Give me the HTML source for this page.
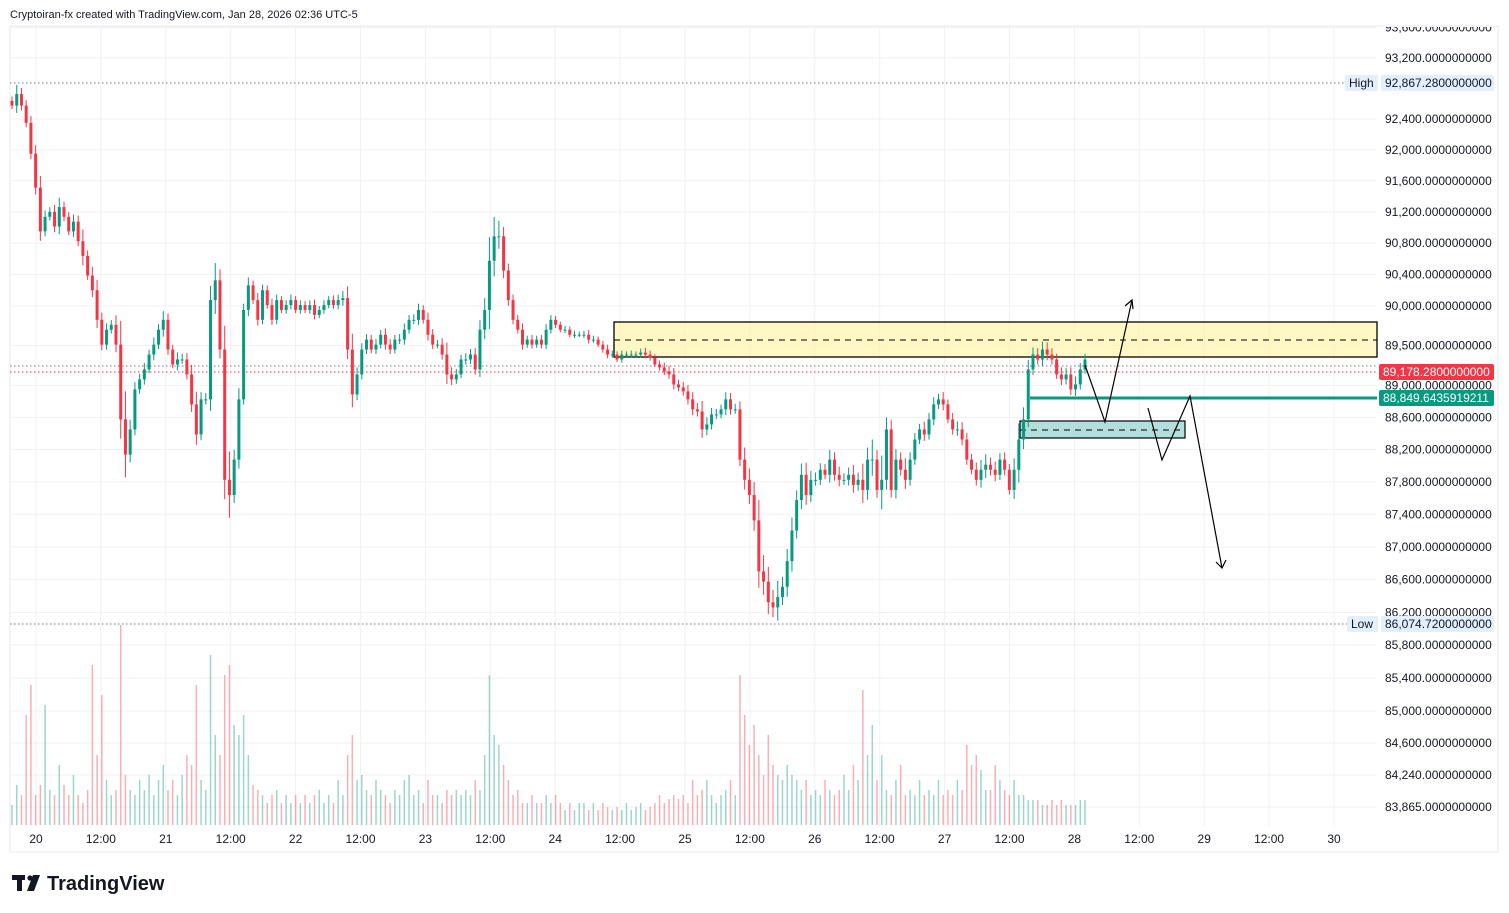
<!DOCTYPE html>
<html><head><meta charset="utf-8"><style>
body{margin:0;background:#fff;font-family:"Liberation Sans",sans-serif;}
svg{display:block}
</style></head><body>
<svg id="chart" width="1509" height="913" viewBox="0 0 1509 913" xmlns="http://www.w3.org/2000/svg">
<defs><clipPath id="plotclip"><rect x="0" y="27" width="1509" height="830"/></clipPath></defs>
<rect x="0" y="0" width="1509" height="913" fill="#fff"/>
<text x="10" y="18" font-size="11" fill="#131722">Cryptoiran-fx created with TradingView.com, Jan 28, 2026 02:36 UTC-5</text>
<rect x="10" y="26" width="1488" height="826" fill="none" stroke="#e8e8ec"/>
<g id="grid"></g>
<g id="zones"></g>
<g id="vols"></g>
<g id="candles"></g>
<g id="draw"></g>
<g id="axis" clip-path="url(#plotclip)"></g>
<g>
<rect x="12" y="875" width="13" height="5" fill="#131722"/>
<rect x="17" y="875" width="5" height="16" fill="#131722"/>
<circle cx="30" cy="878" r="2.6" fill="#131722"/>
<polygon points="33,875 40,875 34,891 27,891" fill="#131722"/>
<text x="47" y="890" font-size="20" font-weight="bold" fill="#131722">TradingView</text>
</g>
</svg>
<script>
const priceTicks=[93600,93200,92400,92000,91600,91200,90800,90400,90000,89500,89000,88600,88200,87800,87400,87000,86600,86200];
const extraLabels=["85,800","85,400","85,000","84,600","84,240","83,865"];
const extraY=[645,678,711,743,775,807];
const timeLabels=["20","12:00","21","12:00","22","12:00","23","12:00","24","12:00","25","12:00","26","12:00","27","12:00","28","12:00","29","12:00","30"];
const closes=[92575,92725,92575,92350,91950,91512,90950,91137,91200,91012,91262,91137,90950,91075,90825,90637,90387,90200,89825,89512,89700,89762,89512,88575,88137,88450,88950,89075,89200,89387,89512,89700,89825,89450,89262,89325,89325,89137,88762,88387,88825,88825,90075,90325,89450,87825,87637,88075,88825,89950,90262,90075,89825,90200,90012,89825,90075,89950,90012,90075,89950,90012,89950,90012,89887,89950,90012,90075,90012,90075,90100,89450,88887,89137,89450,89575,89450,89512,89637,89512,89450,89575,89575,89700,89825,89825,89950,89825,89637,89512,89512,89387,89137,89075,89137,89325,89325,89387,89200,89700,89950,90575,90887,90887,90450,90075,89825,89700,89512,89575,89512,89575,89512,89700,89825,89762,89700,89700,89637,89637,89637,89637,89575,89575,89512,89450,89387,89387,89325,89387,89387,89387,89387,89412,89387,89350,89262,89225,89175,89137,89012,88975,88925,88825,88700,88675,88450,88512,88637,88637,88700,88825,88700,88700,88075,87825,87637,87325,86700,86575,86325,86262,86387,86512,86825,87200,87575,87887,87637,87825,87825,87950,87887,88075,87887,87825,87825,87887,87762,87825,87700,88075,88075,87700,87825,88450,87700,88075,87950,87825,88075,88325,88450,88387,88575,88762,88825,88762,88575,88450,88450,88325,88075,87950,87825,87950,88012,87950,87887,88075,87950,87700,87950,88325,88575,89200,89387,89325,89450,89387,89325,89137,89075,89137,88950,89012,89200,89325];
const wicks=[60,120,80,70,90,110,150,80,60,90,120,70,60,90,80,150,70,110,130,90,80,60,120,300,350,120,90,70,80,60,90,70,110,80,60,90,70,80,120,160,90,80,180,220,140,300,350,120,140,80,100,60,90,70,60,80,70,50,60,70,50,60,50,60,70,50,60,50,60,70,90,150,200,90,80,70,60,70,60,80,70,60,70,80,60,70,80,60,90,70,60,80,150,90,70,60,80,70,80,120,150,300,250,200,120,90,70,60,80,50,60,50,60,70,60,50,40,50,40,50,40,50,60,50,40,50,60,50,40,50,40,50,40,50,60,50,40,50,60,70,80,60,70,80,90,80,130,90,80,70,60,90,80,70,100,150,140,160,250,200,180,150,200,120,150,160,120,140,150,110,90,80,70,120,90,100,80,90,120,90,200,150,250,120,300,150,120,130,90,140,90,80,70,100,80,90,70,90,60,80,100,90,80,70,90,120,130,90,100,80,90,70,140,200,150,120,90,80,100,90,80,70,90,80,90,100,80,70];
const vols=[20,40,30,110,140,30,40,120,35,30,60,40,30,50,30,22,35,160,70,130,45,30,35,200,50,35,30,45,35,50,30,45,60,35,45,30,50,70,60,140,45,35,170,90,70,150,160,100,90,110,70,40,35,30,22,30,35,22,30,22,30,22,30,22,30,35,22,30,22,45,30,70,90,45,50,35,30,45,35,30,22,35,30,45,50,30,35,22,45,30,30,22,35,30,35,30,35,30,45,35,70,150,90,80,60,45,30,35,22,22,30,22,22,30,22,30,22,15,22,15,22,22,15,22,15,22,18,15,18,15,22,15,18,22,15,18,22,30,22,26,30,26,30,22,45,30,35,45,30,22,30,35,45,30,150,110,80,100,70,50,90,60,50,45,60,50,45,35,45,30,35,30,45,35,30,35,50,35,60,45,135,70,100,45,70,35,30,45,60,30,35,30,45,30,35,30,45,30,35,30,45,35,80,60,70,55,35,35,60,45,35,30,45,30,30,25,25,25,20,20,25,20,25,20,20,20];
const NS="http://www.w3.org/2000/svg";
function mk(tag,attrs,parent){const e=document.createElementNS(NS,tag);for(const k in attrs)e.setAttribute(k,attrs[k]);parent.appendChild(e);return e;}
const yOf=p=>306-7105*Math.log(p/90000);
const x0=12,x1=1085;
const step=(x1-x0)/(closes.length-1);
const xOf=i=>x0+i*step;
const UP="#089981",DN="#f23645";
const grid=document.getElementById('grid'),axis=document.getElementById('axis');
priceTicks.forEach(p=>{const y=yOf(p);
 const l=mk('line',{x1:10,x2:1377,y1:y,y2:y,stroke:'#f0f1f3'},grid);
 
 
 const t=mk('text',{x:1385,y:y+4,'font-size':12,fill:'#131722'},axis);
 t.textContent=p.toLocaleString('en-US')+'.0000000000';
 
 
});
extraLabels.forEach((s,i)=>{const y=extraY[i];
 mk('line',{x1:10,x2:1377,y1:y,y2:y,stroke:'#f0f1f3'},grid);
 const t=mk('text',{x:1385,y:y+4,'font-size':12,fill:'#131722'},axis);
 t.textContent=s+'.0000000000';
 
 
});
timeLabels.forEach((s,i)=>{const x=36+i*64.9;
 mk('line',{x1:x,x2:x,y1:26,y2:826,stroke:'#f0f1f3'},grid);
 const t=mk('text',{x:x,y:843,'font-size':12,fill:'#131722','text-anchor':'middle'},axis);
 t.textContent=s;
 
 
});
const zones=document.getElementById('zones');
const yz=mk('rect',{x:614,y:322,width:763,height:35,fill:'#fff59d',opacity:0.6,stroke:'#000','stroke-width':1.2},zones);


mk('rect',{x:614,y:322,width:763,height:35,fill:'none',stroke:'#000','stroke-width':1.2},zones);
mk('line',{x1:614,x2:1377,y1:340,y2:340,stroke:'#000','stroke-dasharray':'6 5'},zones);
const gz=mk('rect',{x:1020,y:421,width:165,height:17,fill:'#b2dfdb',stroke:'#000','stroke-width':1.2},zones);


mk('line',{x1:1020,x2:1185,y1:430,y2:430,stroke:'#000','stroke-dasharray':'6 5'},zones);
[[83,'#787b86'],[624,'#787b86'],[366,'#787b86'],[372,'#f23645']].forEach(([y,c])=>{
 const l=mk('line',{x1:10,x2:1377,y1:y,y2:y,stroke:c,'stroke-dasharray':'1.5 2.5'},zones);
 
 
});
const vg=document.getElementById('vols');
closes.forEach((c,i)=>{const o=i?closes[i-1]:c;const v=vols[i]??25;
 const r=mk('rect',{x:xOf(i)-0.75,y:825-v,width:1.5,height:v,fill:c>=o?UP:DN,opacity:0.4},vg);
 
 
});
const cg=document.getElementById('candles');
closes.forEach((c,i)=>{const o=i?closes[i-1]:c+60;const w=wicks[i]??60;const col=c>=o?UP:DN;const x=xOf(i);
 const hi=Math.max(o,c)+w,lo=Math.min(o,c)-w*0.8;
 const wl=mk('line',{x1:x,x2:x,y1:yOf(hi),y2:yOf(lo),stroke:col,'stroke-width':1},cg);
 
 
 const yt=yOf(Math.max(o,c)),yb=yOf(Math.min(o,c));
 const b=mk('rect',{x:x-1.5,y:yt,width:3,height:Math.max(1,yb-yt),fill:col},cg);
 
 
});
const dg=document.getElementById('draw');
const gl=mk('line',{x1:1030,x2:1377,y1:398,y2:398,stroke:UP,'stroke-width':3},dg);


const p1=mk('polyline',{points:'1085,365 1105,422 1132,300',fill:'none',stroke:'#000','stroke-width':1.2},dg);


mk('polyline',{points:'1125,306 1132,300 1133,309',fill:'none',stroke:'#000','stroke-width':1.2},dg);
const p2=mk('polyline',{points:'1148,408 1162,460 1190,396 1222,568',fill:'none',stroke:'#000','stroke-width':1.2},dg);


mk('polyline',{points:'1216,562 1222,568 1226,560',fill:'none',stroke:'#000','stroke-width':1.2},dg);
function tag(x,y,w,h,bg,txt,fg,name){const r=mk('rect',{x:x,y:y,width:w,height:h,fill:bg,rx:2},axis);
 
 
 const t=mk('text',{x:x+4,y:y+h-4,'font-size':12,fill:fg},axis);t.textContent=txt;}
tag(1345,75,33,16,'#e3effd','High','#131722','high-tag');
tag(1381,75,113,16,'#e3effd','92,867.2800000000','#131722','high-price-tag');
tag(1347,616,31,16,'#e3effd','Low','#131722','low-tag');
tag(1381,616,113,16,'#e3effd','86,074.7200000000','#131722','low-price-tag');
tag(1379,364,115,16,'#f23645','89,178.2800000000','#fff','last-price-tag');
tag(1379,390,115,16,'#089981','88,849.6435919211','#fff','support-price-tag');
</script>
</body></html>
